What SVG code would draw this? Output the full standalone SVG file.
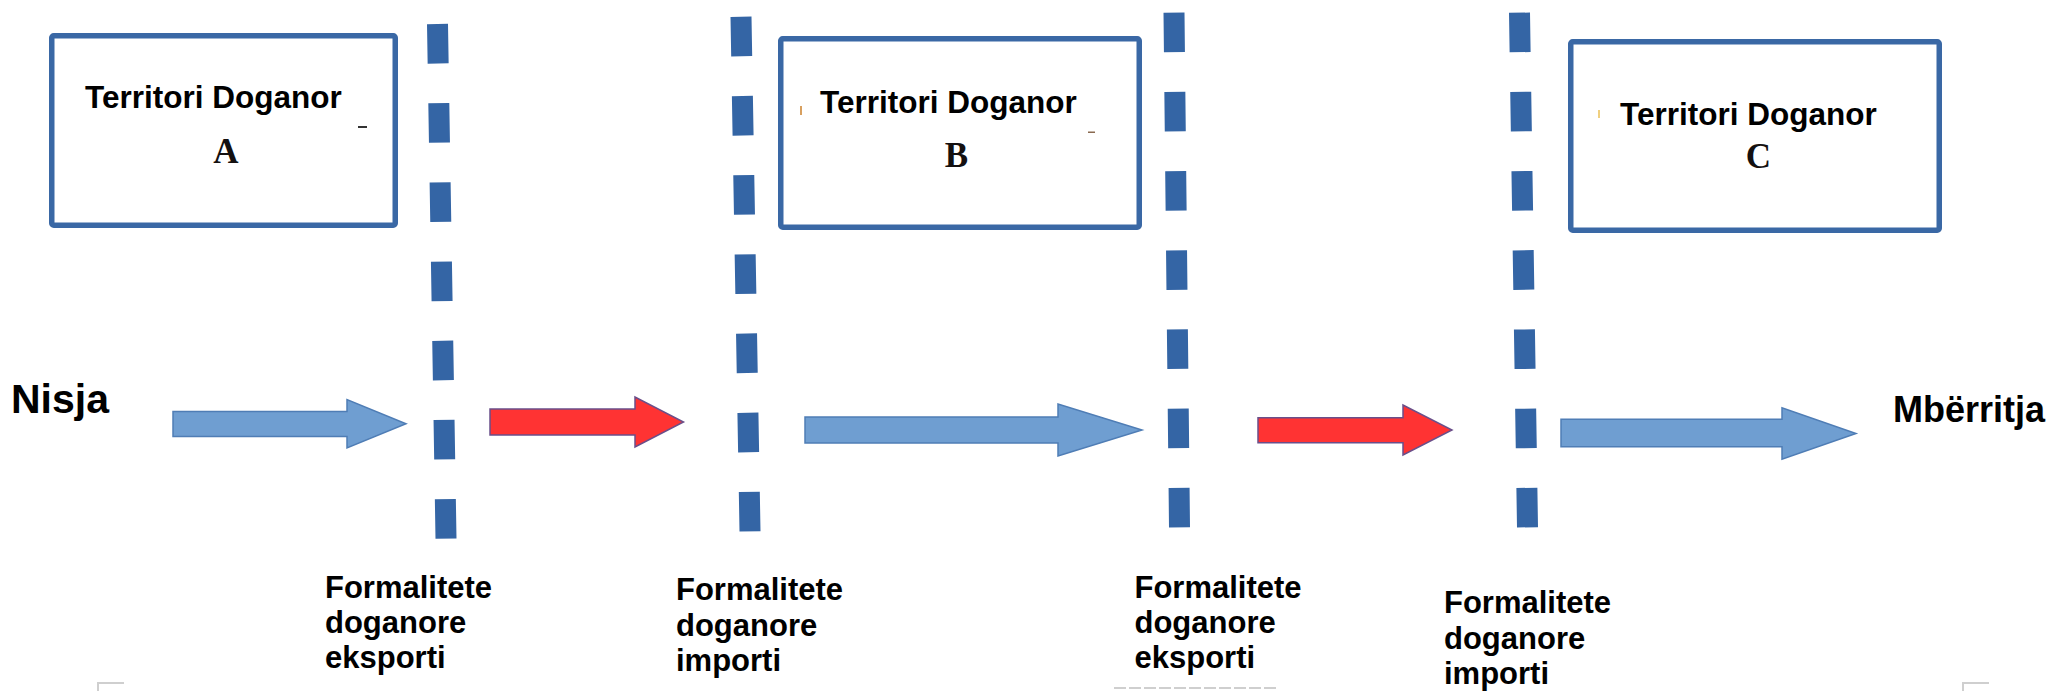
<svg xmlns="http://www.w3.org/2000/svg" width="2055" height="691" viewBox="0 0 2055 691">
<style>
.box{fill:#fff;stroke:#3A68A5;stroke-width:5.5;stroke-linejoin:round}
.t{font-family:"Liberation Sans",Arial,sans-serif;font-weight:bold;fill:#000}
.tt{font-size:31.5px}
.cap{font-size:31px}
.let{font-family:"Liberation Serif","Times New Roman",serif;font-weight:bold;font-size:35px;fill:#141010;text-anchor:middle}
.border{stroke:#3465A5;stroke-width:21;stroke-dasharray:39.5 39.7;fill:none}
.ab{fill:#6F9ED1;stroke:#4F7DB5;stroke-width:1.5;stroke-linejoin:miter}
.ar{fill:#FF3333;stroke:#6A4F8A;stroke-width:1.5;stroke-linejoin:miter}
.gm{fill:none;stroke:#CFCFCF;stroke-width:2}
</style>
<rect width="2055" height="691" fill="#fff"/>

<g id="territoryA">
<rect class="box" x="51.75" y="35.75" width="343.5" height="189.5" rx="2"/>
<text class="t tt" x="85" y="108">Territori Doganor</text>
<text class="let" x="226" y="163">A</text>
<rect x="358" y="126" width="9" height="2" fill="#333"/>
</g>

<g id="territoryB">
<rect class="box" x="780.75" y="38.75" width="358.5" height="188.5" rx="2"/>
<text class="t tt" x="820" y="113">Territori Doganor</text>
<text class="let" x="956.5" y="167">B</text>
<rect x="1088" y="131.5" width="7" height="1.5" fill="#8a6a50"/>
<rect x="800" y="106" width="2" height="9" fill="#d8a060"/>
</g>

<g id="territoryC">
<rect class="box" x="1570.75" y="41.75" width="368.5" height="188.5" rx="2"/>
<text class="t tt" x="1620" y="125">Territori Doganor</text>
<text class="let" x="1758.5" y="168">C</text>
<rect x="1598" y="110" width="2" height="8" fill="#f0d080"/>
</g>

<g id="start">
<text class="t" x="11" y="413" font-size="41">Nisja</text>
</g>

<g id="arrival">
<text class="t" x="1893" y="422" font-size="36">Mbërritja</text>
</g>

<g id="border1">
<line class="border" x1="437.5" y1="24" x2="446" y2="538.7"/>
<text class="t cap" x="325" y="597.7">Formalitete</text>
<text class="t cap" x="325" y="633">doganore</text>
<text class="t cap" x="325" y="668">eksporti</text>
</g>

<g id="border2">
<line class="border" x1="741" y1="16.8" x2="750" y2="531.5"/>
<text class="t cap" x="676" y="600">Formalitete</text>
<text class="t cap" x="676" y="636">doganore</text>
<text class="t cap" x="676" y="671">importi</text>
</g>

<g id="border3">
<line class="border" x1="1174" y1="12.7" x2="1179.5" y2="527.4"/>
<text class="t cap" x="1134.5" y="597.7">Formalitete</text>
<text class="t cap" x="1134.5" y="633">doganore</text>
<text class="t cap" x="1134.5" y="668">eksporti</text>
</g>

<g id="border4">
<line class="border" x1="1519.5" y1="12.7" x2="1527.5" y2="527.4"/>
<text class="t cap" x="1444" y="613">Formalitete</text>
<text class="t cap" x="1444" y="649">doganore</text>
<text class="t cap" x="1444" y="684">importi</text>
</g>

<g id="connectors">
<polygon class="ab" points="173,411.5 347,411.5 347,399.5 406,423.8 347,448 347,436.5 173,436.5"/>
<polygon class="ar" points="490,409 635,409 635,397 683.5,422 635,447 635,435 490,435"/>
<polygon class="ab" points="805,417 1058,417 1058,404 1142,430 1058,456 1058,443 805,443"/>
<polygon class="ar" points="1258,417.7 1403,417.7 1403,405 1452,430 1403,455 1403,442.7 1258,442.7"/>
<polygon class="ab" points="1561,419.3 1782,419.3 1782,407.7 1856,433.5 1782,459.3 1782,446.7 1561,446.7"/>
</g>

<g id="marks">
<path class="gm" d="M98,691 V683 H124"/>
<line class="gm" x1="1114" y1="688" x2="1279" y2="688" stroke-dasharray="12 3"/>
<path class="gm" d="M1963,691 V683 H1989"/>
</g>
</svg>
